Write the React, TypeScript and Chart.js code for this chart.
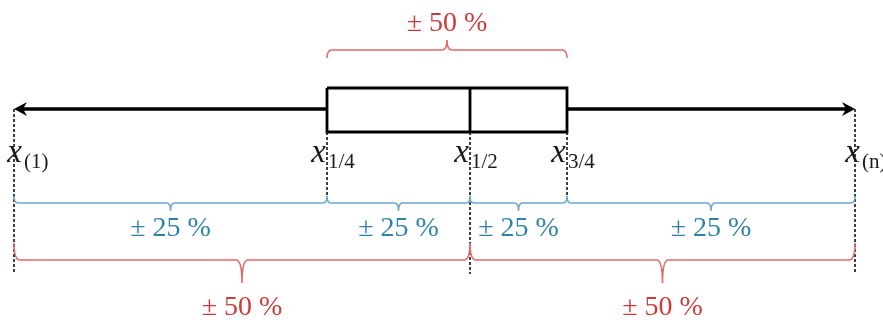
import React, { useEffect, useRef } from "react";
import { Chart, registerables } from "chart.js";

Chart.register(...registerables);

// Five-number summary (position on the value axis)
const summaryNames = ["(1)", "1/4", "1/2", "3/4", "(n)"];
const summaryValues = [14, 327, 470, 567, 855];

// Shares covered by the braces
const quarterShareLabels = ["± 25 %", "± 25 %", "± 25 %", "± 25 %"];
const halfShareLabels = ["± 50 %", "± 50 %"];
const boxShareLabel = "± 50 %";

// Layout constants (rows on the vertical axis)
const ROW = {
  topLabel: 24,
  topBrace: 50,
  boxTop: 88,
  whisker: 109,
  boxBottom: 132,
  xLabel: 162,
  blueBrace: 203,
  blueLabel: 229,
  redBrace: 260,
  redLabel: 308,
  dashShortEnd: 200,
  dashLongEnd: 274,
};
const labelShift = [9, 0, 0, 0, 6];

const RED_LINE = "#e06a6a";
const RED_TEXT = "#cc3b3b";
const BLUE_LINE = "#6ea7d6";
const BLUE_TEXT = "#2f82aa";
const SERIF = '"Liberation Serif", "Times New Roman", serif';

function drawBrace(
  ctx: CanvasRenderingContext2D,
  x1: number,
  x2: number,
  y: number,
  s: number,
  endH: number,
  midH: number,
  color: string,
  r: number
) {
  const mid = (x1 + x2) / 2;
  ctx.save();
  ctx.strokeStyle = color;
  ctx.lineWidth = 1.6;
  ctx.beginPath();
  ctx.moveTo(x1, y - s * endH);
  ctx.quadraticCurveTo(x1, y, x1 + r, y);
  ctx.lineTo(mid - r, y);
  ctx.quadraticCurveTo(mid, y, mid, y + s * midH);
  ctx.quadraticCurveTo(mid, y, mid + r, y);
  ctx.lineTo(x2 - r, y);
  ctx.quadraticCurveTo(x2, y, x2, y - s * endH);
  ctx.stroke();
  ctx.restore();
}

const diagramPlugin = {
  id: "boxDiagram",
  afterDatasetsDraw(chart: any) {
    const ctx: CanvasRenderingContext2D = chart.ctx;
    const xs = chart.scales.x;
    const ys = chart.scales.y;
    const px = (v: number) => xs.getPixelForValue(v);
    const py = (v: number) => ys.getPixelForValue(v);
    const P = summaryValues.map(px);

    // arrow heads
    ctx.save();
    ctx.fillStyle = "#000";
    const wy = py(ROW.whisker);
    const head = (tip: number, dir: number) => {
      ctx.beginPath();
      ctx.moveTo(tip, wy);
      ctx.lineTo(tip + dir * 13, wy - 7);
      ctx.lineTo(tip + dir * 9, wy);
      ctx.lineTo(tip + dir * 13, wy + 7);
      ctx.closePath();
      ctx.fill();
    };
    head(P[0], 1);
    head(P[4], -1);
    ctx.restore();

    // top brace over the box
    drawBrace(ctx, P[1], P[3], py(ROW.topBrace), -1, 8, 10, RED_LINE, 5);
    // quarter braces
    for (let i = 0; i < 4; i++) {
      drawBrace(ctx, P[i], P[i + 1], py(ROW.blueBrace), 1, 7, 8, BLUE_LINE, 4);
    }
    // half braces
    drawBrace(ctx, P[0], P[2], py(ROW.redBrace), 1, 17, 23, RED_LINE, 6);
    drawBrace(ctx, P[2], P[4], py(ROW.redBrace), 1, 17, 23, RED_LINE, 6);

    ctx.save();
    ctx.textAlign = "center";
    ctx.textBaseline = "middle";
    ctx.font = `28px ${SERIF}`;
    ctx.fillStyle = RED_TEXT;
    ctx.fillText(boxShareLabel, (P[1] + P[3]) / 2, py(ROW.topLabel));
    ctx.fillText(halfShareLabels[0], (P[0] + P[2]) / 2, py(ROW.redLabel));
    ctx.fillText(halfShareLabels[1], (P[2] + P[4]) / 2, py(ROW.redLabel));
    ctx.fillStyle = BLUE_TEXT;
    for (let i = 0; i < 4; i++) {
      ctx.fillText(quarterShareLabels[i], (P[i] + P[i + 1]) / 2, py(ROW.blueLabel));
    }
    ctx.restore();

    // x labels
    ctx.save();
    ctx.fillStyle = "#1a1a1a";
    ctx.textBaseline = "alphabetic";
    for (let i = 0; i < 5; i++) {
      const base = P[i] + labelShift[i];
      ctx.font = `italic 33px ${SERIF}`;
      ctx.textAlign = "right";
      ctx.fillText("x", base - 1, py(ROW.xLabel));
      ctx.font = `21px ${SERIF}`;
      ctx.textAlign = "left";
      ctx.fillText(summaryNames[i], base + 1, py(ROW.xLabel) + 6);
    }
    ctx.restore();
  },
};

export default function App() {
  const canvasRef = useRef<HTMLCanvasElement | null>(null);

  useEffect(() => {
    if (!canvasRef.current) return;
    const [mn, q1, md, q3, mx] = summaryValues;
    const lineDs = (pts: { x: number; y: number }[], extra: any = {}) => ({
      data: pts,
      showLine: true,
      pointRadius: 0,
      borderColor: "#000",
      borderWidth: 3.5,
      fill: false,
      clip: false,
      ...extra,
    });
    const dash = { borderWidth: 1.6, borderDash: [3, 2], borderColor: "#111" };
    const chart = new Chart(canvasRef.current, {
      type: "scatter",
      data: {
        datasets: [
          lineDs([{ x: mn, y: ROW.whisker }, { x: mn, y: ROW.dashLongEnd }], dash),
          lineDs([{ x: q1, y: ROW.boxBottom }, { x: q1, y: ROW.dashShortEnd }], dash),
          lineDs([{ x: md, y: ROW.boxBottom }, { x: md, y: ROW.dashLongEnd }], dash),
          lineDs([{ x: q3, y: ROW.boxBottom }, { x: q3, y: ROW.dashShortEnd }], dash),
          lineDs([{ x: mx, y: ROW.whisker }, { x: mx, y: ROW.dashLongEnd }], dash),
          lineDs([{ x: mn + 8, y: ROW.whisker }, { x: q1, y: ROW.whisker }]),
          lineDs([{ x: q3, y: ROW.whisker }, { x: mx - 8, y: ROW.whisker }]),
          lineDs(
            [
              { x: q1, y: ROW.boxTop },
              { x: q3, y: ROW.boxTop },
              { x: q3, y: ROW.boxBottom },
              { x: q1, y: ROW.boxBottom },
              { x: q1, y: ROW.boxTop },
            ],
            { borderWidth: 2.8, borderJoinStyle: "miter", backgroundColor: "#fff", fill: true }
          ),
          lineDs([{ x: md, y: ROW.boxTop }, { x: md, y: ROW.boxBottom }], { borderWidth: 2.8 }),
        ],
      },
      options: {
        animation: false,
        responsive: false,
        devicePixelRatio: 1,
        layout: { padding: 0 },
        plugins: { legend: { display: false }, tooltip: { enabled: false } },
        scales: {
          x: { type: "linear", min: 0, max: 883, display: false },
          y: { type: "linear", min: 0, max: 320, reverse: true, display: false },
        },
      },
      plugins: [diagramPlugin],
    });
    return () => chart.destroy();
  }, []);

  return (
    <div style={{ position: "absolute", left: 0, top: 0, width: 883, height: 320, background: "#fff" }}>
      <canvas ref={canvasRef} width={883} height={320} style={{ display: "block" }} />
    </div>
  );
}
